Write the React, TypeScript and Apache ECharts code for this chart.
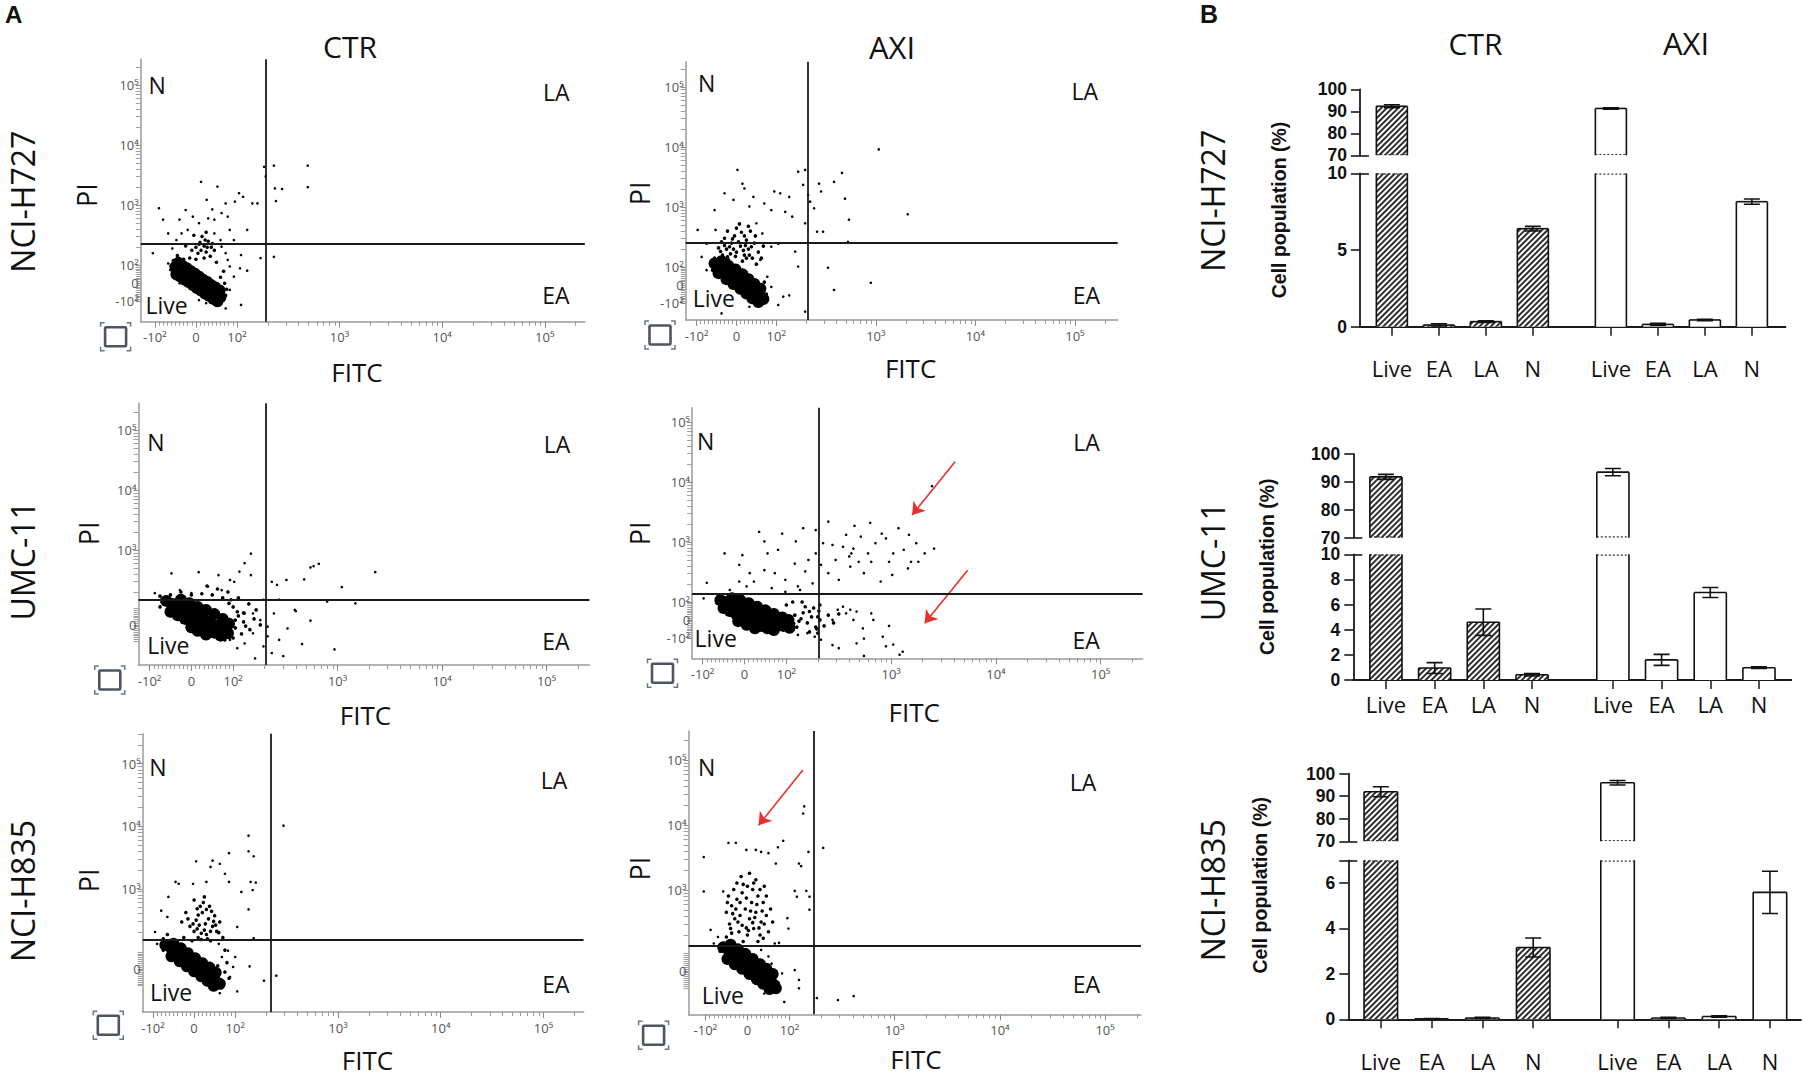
import React, { useEffect, useRef } from 'react';
import * as echarts from 'echarts';

// ---------------- Flow cytometry data (display units: FITC 10^k -> k-1.6, PI 10^k -> k-1.7) ----------------
const P11_CORE = [[-0.2,0.27],[-0.16,0.22],[-0.12,0.18],[-0.08,0.13],[-0.04,0.09],[0,0.04],[0.04,-0.01],[0.08,-0.05],[0.12,-0.1],[0.16,-0.14],[0.2,-0.19],[0.24,-0.23],
  [-0.17,0.34],[-0.13,0.29],[-0.09,0.25],[-0.05,0.2],[-0.01,0.16],[0.03,0.11],[0.07,0.06],[0.11,0.02],[0.15,-0.03],[0.19,-0.07],[0.23,-0.12],
  [-0.19,0.15],[-0.15,0.11],[-0.11,0.06],[-0.07,0.02],[-0.03,-0.03],[0.01,-0.08],[0.05,-0.12],[0.09,-0.17],[0.13,-0.21],[0.17,-0.26],[0.21,-0.3]];
const P11_MID = [[0,0.6],[0.04,0.68],[0.08,0.62],[0.12,0.7],[0.06,0.78],[0.15,0.6],[0.1,0.52],[0.02,0.5],[-0.04,0.55],[0.18,0.55],[-0.06,0.42],[0,0.4],[0.08,0.42],[0.14,0.45],[-0.12,0.4],[0.2,0.35],[0.24,0.1],[0.28,0],[0.3,-0.1],[-0.22,0.38],[-0.18,0.46],[-0.1,0.62],[-0.02,0.8],[0.1,0.85],[0.05,0.55],[0.11,0.6],[0.03,0.65],[0.09,0.72],[0.16,0.66],[0.27,0.2],[0.26,-0.08],[-0.24,0.3],[0.29,-0.2],[-0.2,0.08]];
const P11_SPARSE = [[0.05,1.69],[0.21,1.61],[-0.36,1.25],[-0.32,1.06],[-0.1,1.22],[0.105,1.39],[0.16,1.23],[0.29,1.33],[0.38,1.36],[0.42,1.5],[0.46,1.44],[0.55,1.33],[0.6,1.33],[0.5,0.89],[0.665,1.94],[0.76,1.96],[1.09,1.96],[0.68,1.78],[0.77,1.58],[0.84,1.57],[1.09,1.6],[0.78,1.37],[0.44,0.47],[0.63,0.42],[0.76,0.44],[0.43,0.25],[0.5,0.21],[-0.42,0.5],[-0.27,0.33],[-0.16,1.06],[-0.03,1.11],[0.03,1],[0.12,1.08],[0.18,1.06],[0.25,1.17],[0.31,1.11],[0.33,0.89],[0.37,0.72],[0.29,0.5],[0.33,0.28],[0.37,0.11],[0.33,-0.11],[0.44,-0.36],[0.29,-0.42],[-0.27,0.83],[-0.19,0.72],[-0.23,0.58],[-0.14,0.83],[-0.08,0.89],[0.18,0.83],[0.24,0.72],[0.25,0.61],[0.31,0.39],[0.18,-0.17],[0.24,-0.31],[0.12,-0.22],[-0.16,0],[-0.25,0.22],[-0.19,0.39],[0.03,-0.28],[0.1,-0.33]];

const P12_CORE = [[-0.22,0.36],[-0.17,0.3],[-0.12,0.24],[-0.07,0.18],[-0.02,0.12],[0.03,0.06],[0.08,0],[0.13,-0.06],[0.18,-0.12],[0.23,-0.18],[0.27,-0.23],[-0.15,0.4],[-0.08,0.32],[-0.01,0.26],[0.06,0.18],[0.12,0.1],[0.18,0.02],[0.24,-0.06],[-0.18,0.2],[-0.1,0.1],[-0.03,0.02],[0.04,-0.06],[0.1,-0.14],[0.16,-0.22],[0.22,-0.28]];
const P12_MID = [[-0.14,0.5],[-0.1,0.6],[-0.05,0.7],[0,0.55],[0.04,0.65],[0.08,0.5],[0.12,0.6],[0.16,0.45],[-0.02,0.82],[0.05,0.88],[0.1,0.75],[-0.12,0.78],[0.18,0.7],[0,0.95],[-0.18,0.62],[0.22,0.55],[0.14,0.9],[-0.08,0.42],[0.06,0.4],[0.2,0.35],[-0.06,0.52],[0.02,0.72],[0.09,0.66],[-0.12,0.66],[0.13,0.5],[-0.03,0.6],[0.28,0.05],[0.3,-0.15],[-0.24,0.25],[-0.22,0.45],
  [-0.09,0.47],[-0.01,0.48],[0.1,0.45],[-0.16,0.56],[-0.07,0.64],[0.07,0.58],[0.15,0.64],[-0.04,0.77],[0.08,0.82],[-0.15,0.72],[0.03,1.02],[0.12,0.98],[-0.09,0.9],[0.19,0.82],[0.25,0.45],[0.27,0.65]];
const P12_SPARSE = [[0.01,1.92],[0.08,1.61],[-0.12,1.53],[-0.03,1.42],[0.17,1.47],[0.28,1.36],[0.35,1.25],[0.38,1.56],[0.44,1.53],[0.53,1.47],[0.49,1.22],[0.56,1.14],[0.62,1.89],[0.69,1.92],[0.67,1.67],[0.72,1.5],[0.74,1.39],[0.83,1.69],[0.85,1.56],[0.98,1.72],[1.06,1.87],[1.09,1.44],[1.13,1.09],[1.43,2.26],[1.72,1.18],[0.78,1.28],[0.69,1.03],[0.81,0.89],[0.87,0.89],[1.12,0.72],[0.59,0.56],[0.62,0.31],[0.92,0.29],[0.98,-0.08],[1.35,0.04],[0.69,-0.44],[0.42,-0.33],[0.47,-0.19],[0.53,-0.17],[0.35,-0.03],[0.31,0.14],[0.24,0.42],[0.35,0.64],[0.42,0.69],[0.26,0.86],[0.2,1.03],[-0.22,1.25],[-0.21,0.92],[-0.3,0.69],[-0.39,0.92],[-0.35,0.47],[-0.3,0.25],[0.13,-0.36],[0.22,-0.33],[-0.15,-0.47],[0.06,1.69],[0.13,1.31]];

const P21_CORE = [[-0.24,0.4],[-0.18,0.35],[-0.12,0.3],[-0.06,0.25],[0,0.2],[0.06,0.15],[0.12,0.1],[0.18,0.04],[0.24,-0.02],[0.3,-0.08],[0.35,-0.14],[-0.2,0.22],[-0.13,0.16],[-0.06,0.1],[0.01,0.05],[0.08,-0.01],[0.15,-0.07],[0.22,-0.13],[0.28,-0.18],[-0.1,0.42],[-0.02,0.36],[0.06,0.3],[0.14,0.25],[0.22,0.18],[0.3,0.1],[0.36,0.02],[0.06,-0.1],[0,-0.04],[0.14,-0.16]];
const P21_MID = [[0.4,0.3],[0.45,0.15],[0.5,0.05],[0.42,-0.05],[0.5,0.2],[0.55,0.35],[0.6,0.1],[0.38,0.42],[0.3,0.45],[0.2,0.5],[0.1,0.52],[0,0.5],[-0.1,0.55],[-0.3,0.3],[-0.3,0.48],[0.48,-0.15],[0.4,-0.22],[0.32,-0.25],[0.62,0.25],[0.66,0],[0.56,-0.08],[0.45,0.45],[0.25,0.6],[0.15,0.65],[0.35,0.55],[-0.2,0.5],[0.44,0.22],[0.52,-0.02],[0.36,0.36],[-0.28,0.38],[0.42,0.08]];
const P21_SPARSE = [[0.57,1.19],[0.51,1.03],[0.46,0.89],[0.57,0.83],[0.07,0.88],[-0.19,0.86],[0.26,0.83],[0.37,0.75],[0.41,0.72],[0.77,0.72],[0.82,0.67],[0.91,0.75],[1.08,0.76],[1.14,0.96],[1.17,0.98],[1.22,1.02],[1.44,0.63],[1.76,0.88],[1.3,0.39],[1.57,0.36],[0.99,0.25],[1,0.23],[1.14,0.07],[1.06,-0.32],[1.37,-0.41],[0.88,-0.52],[0.77,-0.47],[0.61,-0.56],[0.69,-0.36],[0.84,-0.25],[0.73,-0.03],[0.79,0.19],[0.69,0.42],[0.84,0.42],[0.92,-0.06],[0.59,-0.14],[0.51,-0.31],[0.44,-0.39],[-0.35,0.53],[-0.29,0.42],[-0.11,0.58],[0,0.53],[0.16,0.64],[0.29,0.58],[0.66,0.08],[0.51,0.19],[0.37,-0.25],[0.73,-0.19],[0.59,0.19]];

const P22_CORE = [[-0.23,0.33],[-0.17,0.3],[-0.11,0.26],[-0.05,0.22],[0.01,0.17],[0.07,0.12],[0.13,0.07],[0.19,0.02],[0.25,-0.03],[0.31,-0.07],[0.37,-0.1],[0.43,-0.13],[-0.2,0.2],[-0.14,0.15],[-0.08,0.1],[-0.02,0.05],[0.04,0],[0.1,-0.05],[0.16,-0.1],[0.22,-0.14],[0.28,-0.17],[-0.12,0.36],[-0.04,0.33],[0.04,0.28],[0.12,0.22],[0.2,0.16],[0.28,0.1],[0.36,0.04],[0.42,0],[-0.06,-0.02],[0.02,-0.08],[0.1,-0.14]];
const P22_MID = [[0.48,0.08],[0.52,-0.02],[0.56,0.12],[0.6,-0.05],[0.64,0.05],[0.68,-0.12],[0.5,-0.12],[0.58,0.22],[0.66,0.2],[0.72,0],[0.76,-0.1],[0.8,0.08],[0.85,-0.05],[0.9,0.1],[0.72,0.25],[0.46,0.3],[0.4,0.25],[0.55,0.3],[0.62,-0.2],[0.7,-0.22],[0.7,0.05],[0.71,0.15],[0.69,-0.15],[0.54,0.02],[0.47,-0.06],[0.62,0.14],[-0.26,0.28],[0.33,-0.16]];
const P22_SPARSE = [[1.01,0.17],[0.97,0.11],[1.04,0],[1.13,-0.14],[1.23,0],[1.38,-0.1],[1.32,-0.28],[1.14,-0.31],[1.07,-0.39],[1.35,-0.44],[1.42,-0.41],[1.51,-0.53],[1.48,-0.58],[1.14,-0.6],[0.9,-0.47],[0.84,-0.42],[0.73,-0.33],[0.67,-0.28],[0.6,-0.22],[0.51,-0.25],[0.94,0.22],[1.07,0.14],[0.89,0.17],[0.84,0],[1.21,0.11],
  [0.8,1.64],[1.05,1.57],[1.2,1.62],[1.47,1.53],[1.57,1.42],[1.81,1.19],[1.72,1.11],[1.66,0.97],[1.56,0.86],[1.41,0.75],[1.3,0.64],[1.14,0.78],[1.02,1.11],[1,1.06],[0.97,1.42],[0.84,1.25],[0.75,1.28],[0.73,0.92],[0.8,0.78],[0.87,1],[0.94,1.22],[1.11,1.39],[1.18,1.11],[1.25,1.28],[1.35,1.36],[1.42,1.11],[1.52,1.17],[1.21,0.97],[1.09,0.97],[1.79,2.23],[1.31,1.44],[1.38,0.97],[1.01,0.89],[0.9,0.67],[1.04,1.19],[1.59,0.97],[1.64,1.28],
  [-0.19,1.11],[-0.02,1.08],[0.14,1.47],[0.19,1.31],[0.36,1.44],[0.56,1.53],[0.68,1.5],[0.49,1.31],[0.32,1.17],[0.48,0.94],[0.58,0.81],[0.19,0.83],[-0.05,0.92],[-0.05,0.64],[0.05,0.78],[-0.36,0.62],[0.29,0.78],[0.39,0.67],[0.51,0.56],[0.65,0.61],[0.68,1.11],[0.61,1],[0.22,1.11],[0.09,0.64],[0.26,0.53],[0.39,0.47],[0.53,0.5],[0.02,0.56],[-0.14,0.5],[-0.26,0.39],[-0.39,0.36]];

const P31_CORE = [[-0.28,0.38],[-0.22,0.32],[-0.16,0.25],[-0.1,0.18],[-0.04,0.11],[0.02,0.04],[0.08,-0.03],[0.14,-0.1],[0.2,-0.17],[0.25,-0.24],[-0.2,0.4],[-0.13,0.33],[-0.06,0.25],[0.01,0.17],[0.08,0.09],[0.15,0.02],[0.21,-0.06],[-0.22,0.2],[-0.14,0.12],[-0.07,0.04],[0,-0.04],[0.07,-0.12],[0.13,-0.19],[0.19,-0.27]];
const P31_MID = [[0,0.6],[0.05,0.7],[0.1,0.62],[0.14,0.8],[0.08,0.9],[0.02,0.78],[-0.04,0.68],[0.18,0.68],[0.12,0.55],[0.22,0.6],[0.06,1],[0,1.1],[0.1,1.15],[-0.08,0.9],[0.15,1],[-0.12,0.75],[0.2,0.85],[0.25,0.75],[0.04,0.5],[-0.02,0.45],[0.16,0.45],[-0.1,0.5],[0.28,0.5],[0.3,0.3],[0.32,0.1],[0.3,-0.05],[0.34,-0.15],[-0.3,0.48],[-0.26,0.55],[0.27,-0.3],[0.23,0.05],[-0.3,0.3],
  [0.03,0.64],[0.07,0.57],[0.11,0.72],[0.16,0.6],[0.19,0.76],[-0.01,0.72],[0.04,0.86],[0.12,0.95],[0.09,1.06],[0.03,0.96],[-0.06,0.8],[0.17,0.92],[0.21,0.7],[0.13,0.48],[0.07,0.47],[0.24,0.58]];
const P31_SPARSE = [[0.53,2.13],[0.53,1.88],[0.58,1.8],[0.87,2.29],[0.34,1.85],[0.02,1.72],[0.18,1.73],[0.25,1.68],[0.16,1.63],[0.3,1.52],[-0.18,1.39],[-0.15,1.36],[-0.01,1.36],[0.12,1.39],[0.34,1.39],[0.46,1.23],[0.55,1.39],[0.6,1.38],[0.57,1.26],[0.53,0.95],[0.42,0.67],[0.58,0.49],[-0.25,1.15],[-0.32,0.93],[-0.26,0.83],[-0.38,0.59],[-0.36,0.4],[0.54,0.04],[0.68,-0.19],[0.8,-0.11],[0.42,-0.36],[0.25,-0.39],[0.35,-0.13],[0.38,0.03],[0.4,0.19],[0.33,0.29],[0.24,0.4],[0.27,0.19],[0.18,-0.29],[0.12,-0.24]];

const P32_CORE = [[-0.23,0.36],[-0.17,0.29],[-0.11,0.22],[-0.05,0.15],[0.01,0.08],[0.07,0.01],[0.13,-0.06],[0.19,-0.13],[0.24,-0.2],[0.27,-0.27],[-0.16,0.4],[-0.09,0.33],[-0.02,0.26],[0.05,0.18],[0.12,0.1],[0.18,0.03],[0.24,-0.05],[-0.19,0.18],[-0.12,0.1],[-0.05,0.03],[0.02,-0.05],[0.09,-0.13],[0.15,-0.2],[0.21,-0.28]];
const P32_MID = [[-0.2,0.9],[-0.15,1],[-0.1,1.1],[-0.05,1.2],[0,1.3],[0.05,1.25],[0.1,1.15],[0.15,1.05],[-0.12,0.8],[-0.05,0.7],[0.02,0.8],[0.08,0.9],[0.13,0.75],[-0.08,0.6],[0,0.55],[0.06,0.65],[0.12,0.55],[-0.16,0.65],[-0.02,0.95],[0.04,1.05],[-0.13,1.25],[0.08,1.4],[-0.06,1.45],[0.18,0.85],[0.2,0.6],[-0.2,0.52],[0.1,0.45],[-0.04,0.45],[0.16,1.3],[-0.18,1.15],[0.02,1.5],[0.22,0.95],[0.29,-0.18],[0.25,0],[-0.26,0.3],
  [-0.17,0.72],[-0.11,0.95],[-0.07,1.05],[-0.01,1.12],[0.03,0.92],[0.09,1.02],[0.14,0.92],[-0.14,0.88],[-0.09,0.75],[-0.01,0.66],[0.05,0.74],[0.11,0.66],[0.16,0.72],[-0.19,1.05],[-0.04,1.33],[0.06,1.35],[0.12,1.25],[-0.1,1.35],[0.18,1.15],[-0.15,0.58],[0.15,0.5],[0.24,0.75],[0.01,0.62],[-0.07,0.85],[0.07,0.82]];
const P32_SPARSE = [[-0.415,1.75],[-0.18,1.97],[-0.11,1.97],[-0.01,1.86],[0.08,1.86],[0.13,1.83],[0.2,1.81],[0.29,1.9],[0.34,2],[0.27,1.65],[0.49,1.65],[0.51,1.61],[0.58,1.83],[0.53,2.42],[0.54,2.53],[0.72,1.89],[-0.415,1.22],[-0.23,1.22],[0.45,1.23],[0.56,1.23],[0.47,1.14],[0.59,0.94],[0.59,1.14],[0.38,0.81],[0.39,0.65],[-0.35,0.63],[-0.32,0.42],[0.26,0.42],[0.3,0.43],[0.45,0.01],[0.49,-0.14],[0.49,-0.27],[0.35,-0.48],[0.66,-0.42],[0.86,-0.45],[1.01,-0.39],[0.3,-0.2],[0.33,-0.04],[0.23,0.11],[0.16,-0.35],[-0.28,0.52],[0.13,0.32],[0.2,0.22]];

// arrows (annotations, in display units)
const P22_ARROWS = [[[2.01, 2.64], [1.6, 1.75]], [[2.13, 0.83], [1.72, -0.055]]];
const P32_ARROWS = [[[0.527, 3.09], [0.106, 2.24]]];

// tick labels
const X_TICK_LABELS = ['-10²', '0', '10²', '10³', '10⁴', '10⁵'];
const Y_TICK_LABELS = ['-10²', '0', '10²', '10³', '10⁴', '10⁵'];

// ---------------- Bar chart data ----------------
const BAR_CATEGORIES = ['Live', 'EA', 'LA', 'N'];
const H727_CTR = [92.3, 0.11, 0.33, 6.39];
const H727_CTR_ERR = [0.7, 0.08, 0.06, 0.15];
const H727_AXI = [91.3, 0.15, 0.44, 8.15];
const H727_AXI_ERR = [0.3, 0.07, 0.05, 0.17];
const UMC_CTR = [91.8, 0.95, 4.6, 0.42];
const UMC_CTR_ERR = [0.9, 0.43, 1.05, 0.1];
const UMC_AXI = [93.5, 1.6, 6.96, 0.98];
const UMC_AXI_ERR = [1.3, 0.44, 0.4, 0.07];
const H835_CTR = [92.0, 0.02, 0.06, 3.16];
const H835_CTR_ERR = [2.2, 0.01, 0.03, 0.42];
const H835_AXI = [96.0, 0.06, 0.12, 5.59];
const H835_AXI_ERR = [1.0, 0.03, 0.03, 0.93];
const BAR_UPPER_TICKS = [70, 80, 90, 100];
const H727_LOWER_TICKS = [0, 5, 10];
const UMC_LOWER_TICKS = [0, 2, 4, 6, 8, 10];
const H835_LOWER_TICKS = [0, 2, 4, 6];

const GROUPS = ['CTR', 'AXI'];
const ROWS = ['NCI-H727', 'UMC-11', 'NCI-H835'];
const QUADS = ['N', 'LA', 'EA', 'Live'];

const FONT = '"Open Sans", "DejaVu Sans", sans-serif';
const ARIAL = '"Liberation Sans", Arial, "DejaVu Sans", sans-serif';

// ---------------- layout ----------------
const PANELS = [
  { core: P11_CORE, mid: P11_MID, sparse: P11_SPARSE, l: 140.8, r: 584.8, t: 59.3, b: 321.7, xMin: -0.537, xMax: 3.79, yMin: -0.64, yMax: 3.73, qx: 0.675, qy: 0.655, yShift: 1.7, yShow: [0,1,2,3,4,5],
    nL: 148.5, nY: 85, liveL: 145.4, liveY: 305, laR: 569.5, laY: 91.7, eaR: 569.5, eaY: 295, pi: [86, 195], fitc: [357, 371.6], icon: [115.6, 336.7], arrows: [] },
  { core: P12_CORE, mid: P12_MID, sparse: P12_SPARSE, l: 685.7, r: 1117.7, t: 61.7, b: 320, xMin: -0.51, xMax: 3.83, yMin: -0.58, yMax: 3.72, qx: 0.717, qy: 0.71, yShift: 1.7, yShow: [0,1,2,3,4,5],
    nL: 698, nY: 83.3, liveL: 692.8, liveY: 298.3, laR: 1098, laY: 90.8, eaR: 1100, eaY: 294.7, pi: [639.3, 193.3], fitc: [910.6, 368.3], icon: [660, 335], arrows: [] },
  { core: P21_CORE, mid: P21_MID, sparse: P21_SPARSE, l: 138.5, r: 589.4, t: 403.3, b: 665, xMin: -0.506, xMax: 3.81, yMin: -0.67, yMax: 3.7, qx: 0.706, qy: 0.417, yShift: 1.75, yShow: [1,3,4,5],
    nL: 147.3, nY: 441.7, liveL: 147.3, liveY: 645, laR: 570.2, laY: 444.3, eaR: 569.5, eaY: 641.3, pi: [88, 533.3], fitc: [365.5, 715], icon: [109.8, 680], arrows: [] },
  { core: P22_CORE, mid: P22_MID, sparse: P22_SPARSE, l: 692.1, r: 1142.6, t: 407.7, b: 658.3, xMin: -0.5, xMax: 3.8, yMin: -0.64, yMax: 3.54, qx: 0.706, qy: 0.44, yShift: 1.7, yShow: [0,1,2,3,4,5],
    nL: 697, nY: 440.5, liveL: 694.6, liveY: 637.7, laR: 1099.8, laY: 442.3, eaR: 1099.8, eaY: 640, pi: [639.3, 533.3], fitc: [914.2, 711.7], icon: [662.5, 673.3], arrows: P22_ARROWS },
  { core: P31_CORE, mid: P31_MID, sparse: P31_SPARSE, l: 142.7, r: 583.6, t: 733.7, b: 1012, xMin: -0.5, xMax: 3.79, yMin: -0.69, yMax: 3.76, qx: 0.75, qy: 0.46, yShift: 1.72, yShow: [1,3,4,5],
    nL: 149.3, nY: 767, liveL: 150, liveY: 992, laR: 567.2, laY: 780.3, eaR: 569.5, eaY: 983.7, pi: [88, 880.3], fitc: [367.4, 1060], icon: [108.3, 1025.3], arrows: [] },
  { core: P32_CORE, mid: P32_MID, sparse: P32_SPARSE, l: 688.5, r: 1140.9, t: 731, b: 1014.3, xMin: -0.56, xMax: 3.74, yMin: -0.67, yMax: 3.69, qx: 0.63, qy: 0.39, yShift: 1.76, yShow: [1,3,4,5],
    nL: 698, nY: 767, liveL: 701.7, liveY: 995.3, laR: 1096.2, laY: 781.7, eaR: 1100, eaY: 983.7, pi: [639.3, 868.7], fitc: [916, 1058.5], icon: [653.6, 1035.3], arrows: P32_ARROWS },
];

const BAR_CHARTS = [
  { ctr: H727_CTR, ctrErr: H727_CTR_ERR, axi: H727_AXI, axiErr: H727_AXI_ERR, axisX: 1359.9, right: 1785.5, spacing: 47, xMin: -0.68,
    uTop: 89.3, uBot: 155.3, lTop: 173.3, lBot: 326.7, lMax: 10, lLabels: H727_LOWER_TICKS, labelMargin: 30, yName: [1279, 210] },
  { ctr: UMC_CTR, ctrErr: UMC_CTR_ERR, axi: UMC_AXI, axiErr: UMC_AXI_ERR, axisX: 1353.3, right: 1791.3, spacing: 48.7, xMin: -0.67,
    uTop: 454, uBot: 537.7, lTop: 554.3, lBot: 680, lMax: 10, lLabels: UMC_LOWER_TICKS, labelMargin: 13, yName: [1267.4, 566.7] },
  { ctr: H835_CTR, ctrErr: H835_CTR_ERR, axi: H835_AXI, axiErr: H835_AXI_ERR, axisX: 1348.3, right: 1800.9, spacing: 50.8, xMin: -0.64,
    uTop: 773.7, uBot: 841.3, lTop: 860.3, lBot: 1019.3, lMax: 7, lLabels: H835_LOWER_TICKS, labelMargin: 31, yName: [1259.7, 885.3] },
];
const GROUP_OFFSET = 4.66;

function labelAt(values: number[], labels: string[], v: number) {
  const i = values.findIndex((p) => Math.abs(p - v) < 1e-6);
  return i >= 0 ? labels[i] : '';
}

function txt(x: number, y: number, text: string, size: number, o: any = {}) {
  const align = o.align || 'center';
  return {
    type: 'text', x, y, rotation: o.rot || 0, silent: true, z: 50,
    style: {
      text, fill: o.color || '#111',
      font: `${o.weight || 'normal'} ${size}px ${o.family || FONT}`,
      textAlign: align, textVerticalAlign: 'middle', align, verticalAlign: 'middle',
    },
  };
}

function buildOption() {
  const grid: any[] = [];
  const xAxis: any[] = [];
  const yAxis: any[] = [];
  const series: any[] = [];
  const graphic: any[] = [];
  const axisGray = '#9a9a9a';

  PANELS.forEach((p) => {
    const gi = grid.length;
    grid.push({ left: p.l, top: p.t, width: p.r - p.l, height: p.b - p.t });
    const xMajor = [-0.4, 0, 0.4, 1.4, 2.4, 3.4];
    const xMinor: number[] = [];
    for (let n = -9; n <= 9; n++) if (n !== 0) xMinor.push((n / 10) * 0.4);
    for (let k = 2; k <= 5; k++) for (let m = 2; m <= 9; m++) { const v = k - 1.6 + Math.log10(m); if (v < p.xMax) xMinor.push(v); }
    const yAll = [-0.3, 0, 0.3, 3 - p.yShift, 4 - p.yShift, 5 - p.yShift];
    const yMajor = p.yShow.map((i) => yAll[i]);
    const yLab = p.yShow.map((i) => Y_TICK_LABELS[i]);
    const yMinor: number[] = [];
    for (let n = -9; n <= 9; n++) if (n !== 0) yMinor.push((n / 10) * 0.3);
    for (let k = 2; k <= 5; k++) for (let m = 2; m <= 9; m++) { const v = k - p.yShift + Math.log10(m); if (v < p.yMax && v > 0.32) yMinor.push(v); }

    const xi = xAxis.length;
    xAxis.push({
      type: 'value', gridIndex: gi, min: p.xMin, max: p.xMax, position: 'bottom',
      axisLine: { show: true, onZero: false, lineStyle: { color: axisGray, width: 1.5 } },
      splitLine: { show: false },
      axisTick: { show: true, customValues: xMajor, length: 6, lineStyle: { color: '#8a8a8a', width: 1 } },
      axisLabel: { show: true, customValues: xMajor, formatter: (v: number) => labelAt(xMajor, X_TICK_LABELS, v), fontSize: 13, color: '#555', margin: 9, fontFamily: FONT },
    });
    xAxis.push({
      type: 'value', gridIndex: gi, min: p.xMin, max: p.xMax, position: 'bottom',
      axisLine: { show: false, onZero: false }, splitLine: { show: false }, axisLabel: { show: false },
      axisTick: { show: true, customValues: xMinor, length: 4, lineStyle: { color: '#9a9a9a', width: 1 } },
    });
    const yi = yAxis.length;
    yAxis.push({
      type: 'value', gridIndex: gi, min: p.yMin, max: p.yMax, position: 'left',
      axisLine: { show: true, onZero: false, lineStyle: { color: axisGray, width: 1.5 } },
      splitLine: { show: false },
      axisTick: { show: true, customValues: yMajor, length: 5, lineStyle: { color: '#8a8a8a', width: 1 } },
      axisLabel: { show: true, customValues: yMajor, formatter: (v: number) => labelAt(yMajor, yLab, v), fontSize: 13, color: '#555', margin: 2, fontFamily: FONT },
    });
    yAxis.push({
      type: 'value', gridIndex: gi, min: p.yMin, max: p.yMax, position: 'left',
      axisLine: { show: false, onZero: false }, splitLine: { show: false }, axisLabel: { show: false },
      axisTick: { show: true, customValues: yMinor, length: 5, lineStyle: { color: '#a0a0a0', width: 1 } },
    });

    series.push({ type: 'scatter', xAxisIndex: xi, yAxisIndex: yi, data: p.core, symbol: 'circle', symbolSize: 12, itemStyle: { color: '#000', opacity: 1 }, silent: true });
    series.push({
      type: 'scatter', xAxisIndex: xi, yAxisIndex: yi, data: p.mid, symbol: 'circle', symbolSize: 3.6, itemStyle: { color: '#000', opacity: 1 }, silent: true,
      markLine: p.arrows.length ? {
        silent: true, symbol: ['none', 'arrow'], symbolSize: 12, label: { show: false }, animation: false,
        lineStyle: { color: '#e8302a', width: 1.6, type: 'solid' },
        data: p.arrows.map((a: number[][]) => [{ coord: a[0] }, { coord: a[1] }]),
      } : undefined,
    });
    series.push({
      type: 'scatter', xAxisIndex: xi, yAxisIndex: yi, data: p.sparse, symbol: 'circle', symbolSize: 2.6, itemStyle: { color: '#000', opacity: 1 }, silent: true,
      markLine: {
        silent: true, symbol: 'none', label: { show: false }, animation: false,
        lineStyle: { color: '#1a1a1a', width: 1.8, type: 'solid' },
        data: [{ xAxis: p.qx }, { yAxis: p.qy }],
      },
    });

    graphic.push(txt(p.nL, p.nY, QUADS[0], 23, { align: 'left' }));
    graphic.push(txt(p.laR, p.laY, QUADS[1], 23, { align: 'right' }));
    graphic.push(txt(p.eaR, p.eaY, QUADS[2], 23, { align: 'right' }));
    graphic.push(txt(p.liveL, p.liveY, QUADS[3], 23, { align: 'left' }));
    graphic.push(txt(p.pi[0], p.pi[1], 'PI', 27, { rot: Math.PI / 2 }));
    graphic.push(txt(p.fitc[0], p.fitc[1], 'FITC', 26));
    const [cx, cy] = p.icon;
    graphic.push({
      type: 'group', x: cx, y: cy, silent: true, z: 50,
      children: [
        { type: 'rect', shape: { x: -10.5, y: -9.5, width: 21, height: 19, r: 1 }, style: { fill: 'none', stroke: '#4d5560', lineWidth: 2.6 } },
        { type: 'polyline', shape: { points: [[-15, -10], [-15, -14], [-11, -14]] }, style: { fill: 'none', stroke: '#6b7580', lineWidth: 1.5 } },
        { type: 'polyline', shape: { points: [[11, -14], [15, -14], [15, -10]] }, style: { fill: 'none', stroke: '#6b7580', lineWidth: 1.5 } },
        { type: 'polyline', shape: { points: [[-15, 10], [-15, 14], [-11, 14]] }, style: { fill: 'none', stroke: '#6b7580', lineWidth: 1.5 } },
        { type: 'polyline', shape: { points: [[11, 14], [15, 14], [15, 10]] }, style: { fill: 'none', stroke: '#6b7580', lineWidth: 1.5 } },
      ],
    });
  });

  const HATCH = { symbol: 'rect', symbolSize: 1, dashArrayX: [1, 0], dashArrayY: [1.3, 1.9], rotation: -Math.PI / 4, color: '#2e2e2e', backgroundColor: '#ffffff' };
  const black = { color: '#1a1a1a', width: 1.8 };
  const errRender = (params: any, api: any) => {
    const x = api.value(0), m = api.value(1), e = api.value(2);
    const t = api.coord([x, m + e]);
    const b = api.coord([x, m - e]);
    const hw = 8;
    const st = { stroke: '#111', lineWidth: 1.6 };
    return {
      type: 'group',
      children: [
        { type: 'line', shape: { x1: t[0], y1: t[1], x2: b[0], y2: b[1] }, style: st },
        { type: 'line', shape: { x1: t[0] - hw, y1: t[1], x2: t[0] + hw, y2: t[1] }, style: st },
        { type: 'line', shape: { x1: b[0] - hw, y1: b[1], x2: b[0] + hw, y2: b[1] }, style: st },
      ],
    };
  };
  const outlineRender = (segMin: number, segMax: number, bw: number, upper: boolean) => (params: any, api: any) => {
    const x = api.value(0), v = api.value(1);
    const h = bw / 2;
    const b = api.coord([x, segMin]);
    const t = api.coord([x, Math.min(v, segMax)]);
    const st = { stroke: '#111', lineWidth: 1.6, fill: 'none' };
    const dot = { stroke: '#333', lineWidth: 1.2, lineDash: [2, 2], fill: 'none' };
    const children: any[] = [
      { type: 'line', shape: { x1: b[0] - h, y1: b[1], x2: b[0] - h, y2: t[1] }, style: st },
      { type: 'line', shape: { x1: b[0] + h, y1: b[1], x2: b[0] + h, y2: t[1] }, style: st },
    ];
    if (v <= segMax) children.push({ type: 'line', shape: { x1: b[0] - h, y1: t[1], x2: b[0] + h, y2: t[1] }, style: st });
    else children.push({ type: 'line', shape: { x1: b[0] - h, y1: t[1] + 0.8, x2: b[0] + h, y2: t[1] + 0.8 }, style: dot });
    if (upper) children.push({ type: 'line', shape: { x1: b[0] - h, y1: b[1] - 0.8, x2: b[0] + h, y2: b[1] - 0.8 }, style: dot });
    return { type: 'group', children };
  };

  BAR_CHARTS.forEach((c) => {
    const w = c.right - c.axisX;
    const xMax = c.xMin + w / c.spacing;
    const pos = [...BAR_CATEGORIES.map((_, i) => i), ...BAR_CATEGORIES.map((_, i) => GROUP_OFFSET + i)];
    const names = [...BAR_CATEGORIES, ...BAR_CATEGORIES];
    const bw = c.spacing * 0.66;
    const segs = [
      { top: c.uTop, bot: c.uBot, min: 70, max: 100, labels: BAR_UPPER_TICKS, ticks: BAR_UPPER_TICKS, cross: 70, upper: true },
      { top: c.lTop, bot: c.lBot, min: 0, max: c.lMax, labels: c.lLabels, ticks: c.lLabels.indexOf(c.lMax) >= 0 ? c.lLabels : [...c.lLabels, c.lMax], cross: c.lMax, upper: false },
    ];
    segs.forEach((s) => {
      const gi = grid.length;
      grid.push({ left: c.axisX, top: s.top, width: w, height: s.bot - s.top });
      const xi = xAxis.length;
      if (s.upper) {
        xAxis.push({ type: 'value', gridIndex: gi, min: c.xMin, max: xMax, show: false });
      } else {
        xAxis.push({
          type: 'value', gridIndex: gi, min: c.xMin, max: xMax, position: 'bottom',
          axisLine: { show: true, onZero: false, lineStyle: black }, splitLine: { show: false },
          axisTick: { show: true, customValues: pos, length: 9, lineStyle: { color: '#1a1a1a', width: 1.5 } },
          axisLabel: { show: true, customValues: pos, formatter: (v: number) => labelAt(pos, names, v), fontSize: 22, fontFamily: FONT, color: '#111', margin: c.labelMargin },
        });
      }
      const yi = yAxis.length;
      yAxis.push({
        type: 'value', gridIndex: gi, min: s.min, max: s.max, position: 'left',
        axisLine: { show: true, onZero: false, lineStyle: black }, splitLine: { show: false },
        axisTick: { show: true, customValues: s.ticks, length: 9, lineStyle: { color: '#1a1a1a', width: 1.6 } },
        axisLabel: { show: true, customValues: s.labels, fontSize: 17.5, fontWeight: 'bold', fontFamily: ARIAL, color: '#111', margin: 13, lineHeight: 16 },
      });
      yAxis.push({
        type: 'value', gridIndex: gi, min: s.min, max: s.max, position: 'left',
        axisLine: { show: false, onZero: false }, splitLine: { show: false }, axisLabel: { show: false },
        axisTick: { show: true, inside: true, customValues: [s.cross], length: 9, lineStyle: { color: '#1a1a1a', width: 1.6 } },
      });
      series.push({
        type: 'bar', xAxisIndex: xi, yAxisIndex: yi, data: c.ctr.map((v, i) => [pos[i], v]), barWidth: bw, barGap: '-100%', silent: true, clip: true,
        itemStyle: { color: '#ffffff', borderWidth: 0, decal: HATCH },
      });
      series.push({
        type: 'bar', xAxisIndex: xi, yAxisIndex: yi, data: c.axi.map((v, i) => [pos[4 + i], v]), barWidth: bw, barGap: '-100%', silent: true, clip: true,
        itemStyle: { color: '#ffffff', borderWidth: 0 },
      });
      const outData: number[][] = [];
      const errData: number[][] = [];
      c.ctr.forEach((v, i) => {
        if (v > s.min) outData.push([pos[i], v]);
        if (s.upper ? v >= 70 : v < s.max) errData.push([pos[i], v, c.ctrErr[i]]);
      });
      c.axi.forEach((v, i) => {
        if (v > s.min) outData.push([pos[4 + i], v]);
        if (s.upper ? v >= 70 : v < s.max) errData.push([pos[4 + i], v, c.axiErr[i]]);
      });
      series.push({ type: 'custom', xAxisIndex: xi, yAxisIndex: yi, data: outData, renderItem: outlineRender(s.min, s.max, bw, s.upper), clip: false, z: 4, silent: true });
      series.push({ type: 'custom', xAxisIndex: xi, yAxisIndex: yi, data: errData, renderItem: errRender, clip: true, z: 5, silent: true });
    });
    graphic.push(txt(c.yName[0], c.yName[1], 'Cell population (%)', 19.5, { rot: Math.PI / 2, weight: 'bold', family: ARIAL }));
  });

  graphic.push(txt(5, 14, 'A', 24, { align: 'left', weight: 'bold', family: ARIAL }));
  graphic.push(txt(1200, 14, 'B', 25, { align: 'left', weight: 'bold', family: ARIAL }));
  graphic.push(txt(350, 46, GROUPS[0], 30));
  graphic.push(txt(892, 46.7, GROUPS[1], 31));
  graphic.push(txt(1475.5, 43, GROUPS[0], 30));
  graphic.push(txt(1686, 43, GROUPS[1], 31));
  const rowY = [[201.7, 200.8], [560.8, 561.7], [891, 890.3]];
  ROWS.forEach((r, i) => {
    graphic.push(txt(22.5, rowY[i][0], r, 32, { rot: Math.PI / 2 }));
    graphic.push(txt(1212, rowY[i][1], r, 32, { rot: Math.PI / 2 }));
  });

  return { animation: false, backgroundColor: '#ffffff', grid, xAxis, yAxis, series, graphic };
}

export default function App() {
  const ref = useRef<HTMLDivElement>(null);
  useEffect(() => {
    if (!ref.current) return;
    const chart = echarts.init(ref.current, null, { renderer: 'svg' });
    chart.setOption(buildOption() as any);
    return () => chart.dispose();
  }, []);
  return <div ref={ref} style={{ position: 'absolute', left: 0, top: 0, width: 1804, height: 1077, background: '#fff' }} />;
}
